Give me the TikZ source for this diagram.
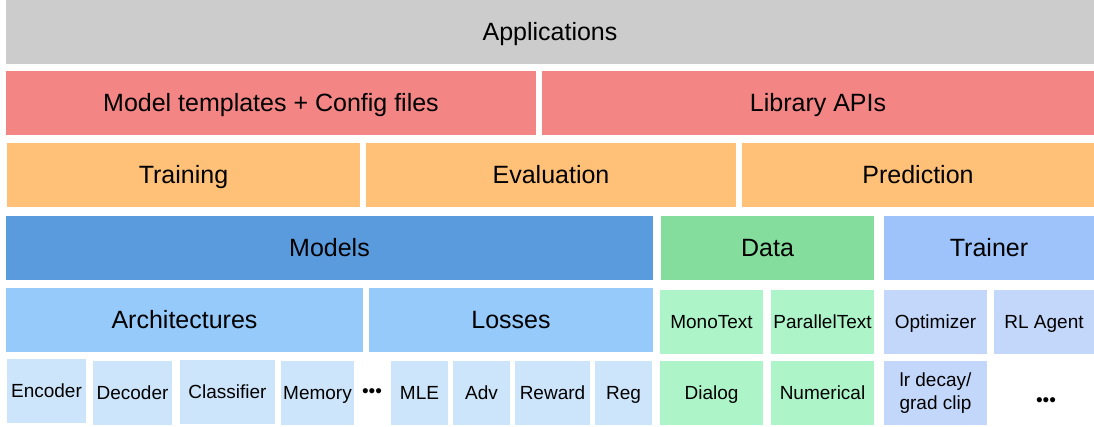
\documentclass[tikz,border=0pt]{standalone}
\usepackage{fontspec}
\setmainfont{Liberation Sans}
\usepackage{xcolor}
\definecolor{appgray}{HTML}{CCCCCC}
\definecolor{apired}{HTML}{F48585}
\definecolor{runorange}{HTML}{FFC178}
\definecolor{modelblue}{HTML}{5A9BDE}
\definecolor{datagreen}{HTML}{84DD9C}
\definecolor{trainerblue}{HTML}{9DC3FA}
\definecolor{partblue}{HTML}{96CAFA}
\definecolor{partgreen}{HTML}{ADF5C8}
\definecolor{parttrainer}{HTML}{C3D7FA}
\definecolor{leafblue}{HTML}{CCE5FA}

\begin{document}
\begin{tikzpicture}[x=1pt, y=-1pt]
    \tikzstyle{block}=[rectangle, anchor=north west, inner sep=0pt, outer sep=0pt, minimum height=64pt]
    \tikzstyle{layer}=[block, text height=17.9pt, text depth=0pt, font=\fontsize{25}{30}\selectfont]
    \tikzstyle{module}=[block, text height=13.6pt, text depth=0pt, font=\fontsize{19}{23}\selectfont]
    \tikzstyle{etc}=[inner sep=0pt, font=\fontsize{19}{23}\selectfont]

    \useasboundingbox (0,0) rectangle (1094,427);

    % Applications and interfaces
    \node[layer, fill=appgray, minimum width=1088pt] (App) at (6,0) {Applications};
    \node[layer, fill=apired, minimum width=530pt] (Tmpl) at (6,71) {Model templates + Config files};
    \node[layer, fill=apired, minimum width=552pt] (Api) at (542,71) {Library APIs};

    % Executors
    \node[layer, fill=runorange, minimum width=353pt] (Train) at (7,143) {Training};
    \node[layer, fill=runorange, minimum width=370pt] (Eval) at (366,143) {Evaluation};
    \node[layer, fill=runorange, minimum width=352pt] (Pred) at (742,143) {Prediction};

    % Main modules
    \node[layer, fill=modelblue, minimum width=647pt] (Models) at (6,216) {Models};
    \node[layer, fill=datagreen, minimum width=213pt] (Data) at (661,216) {Data};
    \node[layer, fill=trainerblue, minimum width=210pt] (Trainer) at (884,216) {Trainer};

    % Sub modules
    \node[layer, fill=partblue, minimum width=357pt] (Arch) at (6,288) {Architectures};
    \node[layer, fill=partblue, minimum width=284pt] (Loss) at (369,288) {Losses};
    \node[module, fill=partgreen, minimum width=103pt] (Mono) at (660,290) {MonoText};
    \node[module, fill=partgreen, minimum width=103pt] (Para) at (771,290) {ParallelText};
    \node[module, fill=parttrainer, minimum width=103pt] (Optim) at (884,290) {Optimizer};
    \node[module, fill=parttrainer, minimum width=100pt] (RL) at (994,290) {RL Agent};

    % Leaves
    \node[module, fill=leafblue, minimum width=79pt] (Enc) at (7,359) {Encoder};
    \node[module, fill=leafblue, minimum width=79pt] (Dec) at (93,361) {Decoder};
    \node[module, fill=leafblue, minimum width=95pt] (Cls) at (180,360) {Classifier};
    \node[module, fill=leafblue, minimum width=73pt] (Mem) at (281,361) {Memory};
    \node[etc] (Dots-1) at (372,393) {•••};
    \node[module, fill=leafblue, minimum width=57pt] (MLE) at (391,361) {MLE};
    \node[module, fill=leafblue, minimum width=57pt] (Adv) at (453,361) {Adv};
    \node[module, fill=leafblue, minimum width=75pt] (Rew) at (515,361) {Reward};
    \node[module, fill=leafblue, minimum width=57pt] (Reg) at (595,361) {Reg};
    \node[module, fill=partgreen, minimum width=103pt] (Dialog) at (660,361) {Dialog};
    \node[module, fill=partgreen, minimum width=103pt] (Num) at (771,361) {Numerical};
    \node[block, fill=parttrainer, minimum width=103pt, align=center, font=\fontsize{19}{22.5}\selectfont] (Lr) at (884,361) {lr decay/\\grad clip};
    \node[etc] (Dots-2) at (1046,402) {•••};
\end{tikzpicture}
\end{document}
